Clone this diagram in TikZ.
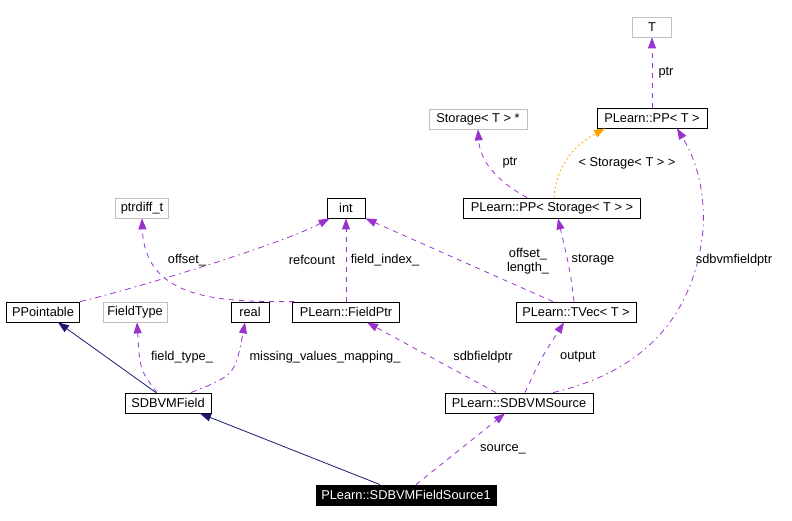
\documentclass[tikz,border=0pt]{standalone}
\usepackage{fontspec}
\setmainfont{Liberation Sans}
\usetikzlibrary{arrows.meta}
\definecolor{usecol}{HTML}{9A32CD}
\definecolor{inhcol}{HTML}{191970}
\definecolor{tplcol}{HTML}{FFA500}
\definecolor{undoc}{HTML}{BFBFBF}
\begin{document}
\begin{tikzpicture}[x=1pt,y=-1pt,
  every node/.style={font=\fontsize{12.8}{14.5}\selectfont},
  cls/.style={draw=black,line width=0.8pt,minimum height=20pt,inner sep=0pt,anchor=center},
  ucls/.style={cls,draw=undoc},
  cur/.style={cls,fill=black,text=white},
  tip/.style={-{Triangle[length=11pt,width=8pt]}},
  uses/.style={color=usecol,line width=0.8pt,dash pattern=on 5pt off 5pt,tip},
  usesdd/.style={uses,dash pattern=on 6pt off 4pt on 1.5pt off 4pt},
  inh/.style={color=inhcol,line width=0.8pt,tip},
  tpl/.style={color=tplcol,line width=0.8pt,dash pattern=on 2pt off 2.5pt,tip},
  lbl/.style={inner sep=0pt,text=black,align=center}
]
\useasboundingbox (0,0) rectangle (792,521);

% nodes
\node[ucls,minimum width=39pt]  (T)      at (652,27)  {T};
\node[cls,minimum width=110pt]  (ppt)    at (652,118) {PLearn::PP< T >};
\node[ucls,minimum width=98pt]  (stp)    at (478,119) {Storage< T > *};
\node[cls,minimum width=177pt]  (ppst)   at (552,208) {PLearn::PP< Storage< T > >};
\node[ucls,minimum width=53pt]  (ptrd)   at (142,208) {ptrdiff\_t};
\node[cls,minimum width=38pt]   (int)    at (346,208) {int};
\node[cls,minimum width=73pt]   (ppo)    at (43,312)  {PPointable};
\node[ucls,minimum width=64pt]  (ftype)  at (135,312) {FieldType};
\node[cls,minimum width=38pt]   (real)   at (250,312) {real};
\node[cls,minimum width=107pt]  (fptr)   at (346,312) {PLearn::FieldPtr};
\node[cls,minimum width=120pt]  (tvec)   at (576,312) {PLearn::TVec< T >};
\node[cls,minimum width=86pt]   (field)  at (168,403) {SDBVMField};
\node[cls,minimum width=148pt]  (src)    at (519,403) {PLearn::SDBVMSource};
\node[cur,minimum width=180pt]  (fs1)    at (406,495) {PLearn::SDBVMFieldSource1};

% edges
\draw[uses] (ppt.north) -- (T.south);
\node[lbl] (l1) at (666,73) {ptr};

\draw[uses] ([xshift=-25pt]ppst.north) .. controls (495,180) and (480,160) .. (stp.south);
\node[lbl] (l2) at (510,163) {ptr};

\draw[tpl] ([xshift=2pt]ppst.north) .. controls (556,165) and (575,145) .. ([xshift=-47pt]ppt.south);
\node[lbl] (l3) at (627,163) {< Storage< T > >};

\draw[uses] ([xshift=-2pt]tvec.north) .. controls (570,270) .. ([xshift=6pt]ppst.south);
\node[lbl] (l4) at (593,260) {storage};

\draw[uses] ([xshift=-23pt]tvec.north) -- (int.south east);
\node[lbl] (l5) at (528,261) {offset\_\\length\_};

\draw[uses] (fptr.north) -- (int.south);
\node[lbl] (l6) at (385,260) {field\_index\_};

\draw[usesdd] (ppo.north east) .. controls (130,290) and (280,245) .. ([xshift=3pt]int.south west);
\node[lbl] (l7) at (312,260) {refcount};

\draw[uses] ([xshift=2pt]fptr.north west) .. controls (220,302) and (145,300) .. (ptrd.south);
\node[lbl] (l8) at (187,260) {offset\_};

\draw[inh] ([xshift=-12pt]field.north) -- ([xshift=15pt]ppo.south);

\draw[uses] ([xshift=-11pt]field.north) .. controls (140,370) .. ([xshift=2pt]ftype.south);
\node[lbl] (l9) at (182,357) {field\_type\_};

\draw[usesdd] ([xshift=23pt]field.north) .. controls (235,375) .. ([xshift=-5pt]real.south);
\node[lbl] (l10) at (325,357) {missing\_values\_mapping\_};

\draw[uses] ([xshift=-23pt]src.north) -- ([xshift=21pt]fptr.south);
\node[lbl] (l11) at (483,357) {sdbfieldptr};

\draw[uses] ([xshift=6pt]src.north) .. controls (540,360) .. ([xshift=-12pt]tvec.south);
\node[lbl] (l12) at (578,357) {output};

\draw[usesdd] ([xshift=34pt]src.north) .. controls (650,370) and (695,310) .. (703,230)
  .. controls (706,180) and (690,150) .. ([xshift=25pt]ppt.south);
\node[lbl] (l13) at (734,260) {sdbvmfieldptr};

\draw[inh] ([xshift=-26pt]fs1.north) -- ([xshift=32pt]field.south);

\draw[uses] ([xshift=10pt]fs1.north) -- ([xshift=-14pt]src.south);
\node[lbl] (l14) at (503,449) {source\_};
\end{tikzpicture}
\end{document}
